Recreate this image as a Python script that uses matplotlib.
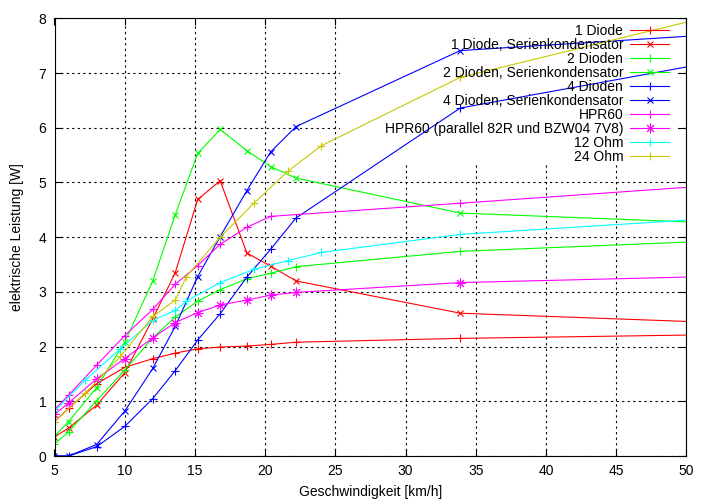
import matplotlib
matplotlib.use("Agg")
import matplotlib.pyplot as plt
from matplotlib.patches import Rectangle

plt.rcParams['font.family'] = ['Liberation Sans', 'DejaVu Sans']
plt.rcParams['font.size'] = 10

# speed [km/h] at which the measurements were taken
x_std = [5, 6, 8, 10, 12, 13.6, 15.2, 16.8, 18.7, 20.4, 22.2, 33.9, 50]
x_hpr = [5, 6, 8, 10, 12, 13.6, 15.2, 16.8, 18.7, 20.4, 33.9, 50]
x_ohm = [5, 7.2, 9.7, 12.0, 13.6, 14.4, 16.8, 19.2, 21.6, 24.0, 33.9, 50]

# electrical power [W]
diode1 = [0.63, 0.87, 1.32, 1.62, 1.78, 1.88, 1.96, 1.99, 2.01, 2.04, 2.08, 2.15, 2.21]
diode1_sk = [0.35, 0.51, 0.93, 1.52, 2.51, 3.35, 4.69, 5.03, 3.71, 3.47, 3.20, 2.61, 2.46]
diode2 = [0.22, 0.44, 1.01, 1.57, 2.16, 2.54, 2.83, 3.04, 3.24, 3.34, 3.46, 3.74, 3.91]
diode2_sk = [0.36, 0.63, 1.25, 2.08, 3.20, 4.41, 5.53, 5.97, 5.58, 5.29, 5.08, 4.44, 4.28]
diode4 = [0, 0, 0.17, 0.54, 1.05, 1.56, 2.12, 2.60, 3.27, 3.78, 4.35, 6.36, 7.11]
diode4_sk = [0, 0, 0.21, 0.82, 1.60, 2.37, 3.28, 4.01, 4.85, 5.56, 6.02, 7.41, 7.67]
hpr60 = [0.85, 1.11, 1.66, 2.20, 2.68, 3.14, 3.48, 3.87, 4.18, 4.38, 4.62, 4.91]
hpr60_par = [0.76, 0.97, 1.41, 1.78, 2.16, 2.44, 2.62, 2.76, 2.85, 2.94, 2.99, 3.17, 3.27]
ohm12 = [0.82, 1.39, 1.96, 2.48, 2.66, 2.83, 3.17, 3.41, 3.57, 3.72, 4.05, 4.31]
ohm24 = [0.63, 1.15, 1.82, 2.55, 2.85, 3.28, 4.00, 4.62, 5.20, 5.67, 6.92, 7.93]

labels = ["1 Diode", "1 Diode, Serienkondensator", "2 Dioden",
          "2 Dioden, Serienkondensator", "4 Dioden", "4 Dioden, Serienkondensator",
          "HPR60", "HPR60 (parallel 82R und BZW04 7V8)", "12 Ohm", "24 Ohm"]

STAR = (8, 2, 0)  # gnuplot pt 3: + and x on top of each other
series = [
    (x_std, diode1, "#ff0000", "+"),
    (x_std, diode1_sk, "#ff0000", "x"),
    (x_std, diode2, "#00ff00", "+"),
    (x_std, diode2_sk, "#00ff00", "x"),
    (x_std, diode4, "#0000ff", "+"),
    (x_std, diode4_sk, "#0000ff", "x"),
    (x_hpr, hpr60, "#ff00ff", "+"),
    (x_std, hpr60_par, "#ff00ff", STAR),
    (x_ohm, ohm12, "#00ffff", "+"),
    (x_ohm, ohm24, "#c8c800", "+"),
]

fig = plt.figure(figsize=(7.13, 5.0), dpi=100)
ax = fig.add_axes([54.5 / 713, 44 / 500, (686.3 - 54.5) / 713, (456 - 18.3) / 500])

ax.set_axisbelow(True)
ax.grid(True, color="black", linestyle=(0, (2, 3)), linewidth=0.8)
# key background hides the grid, like gnuplot does
ax.add_patch(Rectangle((25.35, 5.36), 24.05, 2.64, facecolor="white",
                       edgecolor="none", zorder=1))

for (xs, ys, col, mk), lab in zip(series, labels):
    if mk == "x":
        ms, mew = 5, 0.8
    elif mk == STAR:
        ms, mew = 7, 0.7
    else:
        ms, mew = 6, 0.8
    ax.plot(xs, ys, color=col, lw=0.8, marker=mk, ms=ms, mew=mew,
            markevery=list(range(len(xs) - 1)), label=lab, zorder=2)

ax.set_xlim(5, 50)
ax.set_ylim(0, 8)
ax.set_xticks(range(5, 51, 5))
ax.set_yticks(range(0, 9))
ax.tick_params(direction="in", length=5, width=0.8, top=True, right=True, pad=6)
for sp in ax.spines.values():
    sp.set_linewidth(0.8)

ax.set_xlabel("Geschwindigkeit [km/h]", labelpad=5)
ax.set_ylabel("elektrische Leistung [W]", labelpad=10)

ax.legend(loc="upper right", bbox_to_anchor=(669 / 713, (500 - 24) / 500),
          bbox_transform=fig.transFigure, frameon=False, markerfirst=False,
          borderpad=0, borderaxespad=0, handlelength=2.8, handletextpad=0.5,
          labelspacing=0.0)

fig.savefig("out.png", dpi=100)
